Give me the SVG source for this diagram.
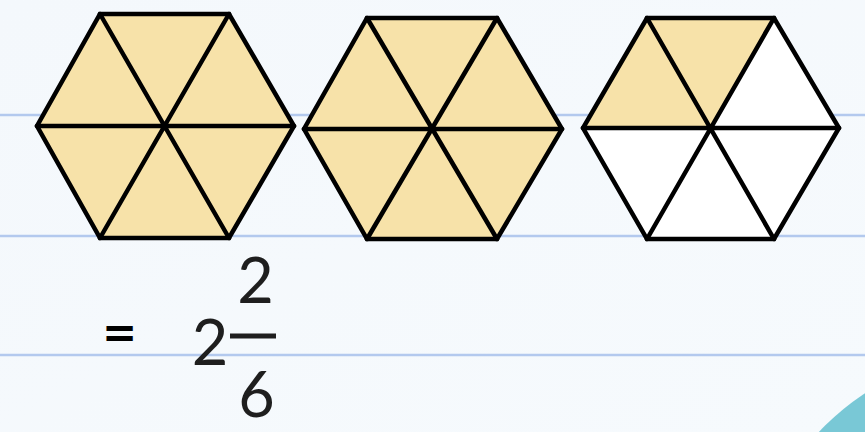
<svg xmlns="http://www.w3.org/2000/svg" width="865" height="432" viewBox="0 0 865 432">
  <defs>
    <linearGradient id="bg" x1="0" y1="0" x2="1" y2="1">
      <stop offset="0" stop-color="#f4f8fc"/>
      <stop offset="1" stop-color="#f6fafd"/>
    </linearGradient>
    <style>
      .rule { stroke: #b3c9ee; stroke-width: 2.5; fill: none; }
      .on { fill: #f7e2a9; }
      .off { fill: #ffffff; }
      .edge { fill: none; stroke: #000000; stroke-width: 4.5; stroke-linejoin: miter; stroke-linecap: round; }
      .num { font-family: Lato, "Liberation Sans", sans-serif; font-size: 63px; fill: #1e1e1e; text-anchor: middle; }
      .eq { font-family: "DejaVu Sans", sans-serif; font-weight: bold; font-size: 42px; fill: #000000; text-anchor: middle; }
    </style>
  </defs>

  <rect x="0" y="0" width="865" height="432" fill="url(#bg)"/>
  <line class="rule" x1="0" y1="115" x2="865" y2="115"/>
  <line class="rule" x1="0" y1="236" x2="865" y2="236"/>
  <line class="rule" x1="0" y1="355" x2="865" y2="355"/>
  <circle cx="1000" cy="600" r="247" fill="#79c8d6"/>

  <g id="hexagon-1">
    <polygon class="on" points="100,14 229,14 165,126"/>
    <polygon class="on" points="229,14 294,126 165,126"/>
    <polygon class="on" points="294,126 229,238 165,126"/>
    <polygon class="on" points="229,238 100,238 165,126"/>
    <polygon class="on" points="100,238 37,126 165,126"/>
    <polygon class="on" points="37,126 100,14 165,126"/>
    <polygon class="edge" points="100,14 229,14 294,126 229,238 100,238 37,126"/>
    <path class="edge" d="M100,14 L229,238 M229,14 L100,238 M37,126 L294,126"/>
  </g>

  <g id="hexagon-2">
    <polygon class="on" points="367,18 497,18 433,129"/>
    <polygon class="on" points="497,18 562,129 433,129"/>
    <polygon class="on" points="562,129 497,239 433,129"/>
    <polygon class="on" points="497,239 367,239 433,129"/>
    <polygon class="on" points="367,239 304,129 433,129"/>
    <polygon class="on" points="304,129 367,18 433,129"/>
    <polygon class="edge" points="367,18 497,18 562,129 497,239 367,239 304,129"/>
    <path class="edge" d="M367,18 L497,239 M497,18 L367,239 M304,129 L562,129"/>
  </g>

  <g id="hexagon-3">
    <polygon class="on" points="647,18 774,18 712,128"/>
    <polygon class="off" points="774,18 839,128 712,128"/>
    <polygon class="off" points="839,128 774,239 712,128"/>
    <polygon class="off" points="774,239 647,239 712,128"/>
    <polygon class="off" points="647,239 583,128 712,128"/>
    <polygon class="on" points="583,128 647,18 712,128"/>
    <polygon class="edge" points="647,18 774,18 839,128 774,239 647,239 583,128"/>
    <path class="edge" d="M647,18 L774,239 M774,18 L647,239 M583,128 L839,128"/>
  </g>

  <g id="result">
    <text class="eq" x="119.5" y="347">=</text>
    <text class="num" x="210" y="365">2</text>
    <text class="num" x="255.5" y="303">2</text>
    <rect x="230" y="333.5" width="46" height="5" fill="#1e1e1e"/>
    <text class="num" x="256.5" y="417">6</text>
  </g>
</svg>
